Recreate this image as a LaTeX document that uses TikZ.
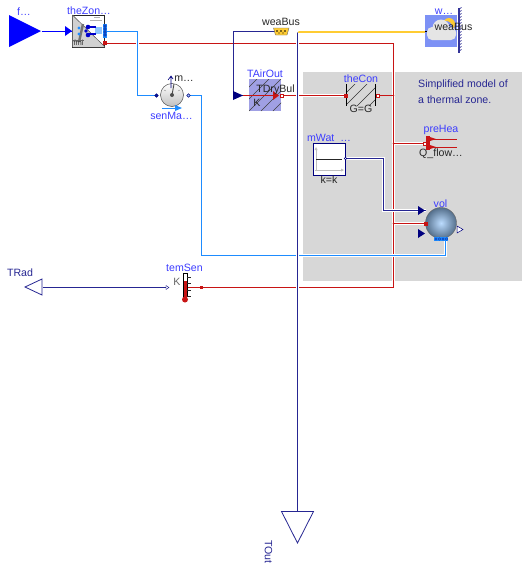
\documentclass[tikz,border=0pt]{standalone}
\usepackage{fontspec}
\setmainfont{Liberation Sans}
\definecolor{mblue}{RGB}{0,0,255}
\definecolor{lblue}{RGB}{60,60,255}
\definecolor{dblue}{RGB}{0,0,127}
\definecolor{mred}{RGB}{200,20,20}
\definecolor{sky}{RGB}{30,140,255}
\definecolor{wyellow}{RGB}{255,204,51}
\definecolor{panel}{RGB}{215,215,215}
\definecolor{hatchbg}{RGB}{160,160,228}
\definecolor{weabg}{RGB}{125,145,245}
\tikzset{
 lab/.style={inner sep=0pt,font=\fontsize{10.6}{12}\selectfont,text=lblue},
 blk/.style={inner sep=0pt,font=\fontsize{10.6}{12}\selectfont,text=black!85},
 note/.style={inner sep=0pt,font=\fontsize{10.6}{12}\selectfont,text=dblue!85,anchor=west},
 halo/.style={white,line width=2.8pt},
 redw/.style={mred,line width=0.9pt},
 bluew/.style={sky,line width=0.9pt},
 darkw/.style={dblue!85,line width=0.9pt},
 boxn/.style={inner sep=0pt,outer sep=0pt,minimum width=32pt,minimum height=32pt,anchor=north west},
 portr/.style={fill=mred,draw=none,minimum size=4pt,inner sep=0pt},
 portw/.style={fill=white,draw=mred,line width=0.5pt,minimum size=3.5pt,inner sep=0pt},
 portb/.style={circle,fill=sky,draw=dblue,line width=0.4pt,minimum size=3.5pt,inner sep=0pt},
}
\begin{document}
\begin{tikzpicture}[x=1pt,y=-1pt]
\useasboundingbox (0,0) rectangle (528,571);
% panel
\fill[panel] (303,72) rectangle (522,281);
\node[note] (note1) at (418,85) {Simplified model of};
\node[note] (note2) at (418,100) {a thermal zone.};

% anchors, set on pixel centres
\begin{scope}[shift={(0.5,0.5)}]
\coordinate (zoneB) at (105,31);
\coordinate (zoneR) at (105,43);
\coordinate (b1) at (137,31);
\coordinate (b2) at (137,95);
\coordinate (senL) at (156,95);
\coordinate (senR) at (188,95);
\coordinate (b3) at (201,95);
\coordinate (b4) at (201,255);
\coordinate (b5) at (445,255);
\coordinate (volB) at (445,240);
\coordinate (r1) at (393,43);
\coordinate (r2) at (393,287);
\coordinate (temP) at (201,287);
\coordinate (temS) at (187,287);
\coordinate (airR) at (281,95);
\coordinate (conL) at (345,95);
\coordinate (conR) at (377,95);
\coordinate (jc1) at (393,95);
\coordinate (jc2) at (393,143);
\coordinate (jc3) at (393,223);
\coordinate (heaP) at (424,143);
\coordinate (volP) at (425,223);
\coordinate (busN) at (281,31);
\coordinate (busJ) at (297,31);
\coordinate (d1) at (233,31);
\coordinate (d2) at (233,95);
\coordinate (airL) at (249,95);
\coordinate (watIn) at (425,31);
\coordinate (tOutIn) at (297,511);
\coordinate (watO) at (345,158);
\coordinate (w1) at (383,158);
\coordinate (w2) at (383,210);
\coordinate (volI) at (425,210);
\coordinate (tRadO) at (42,287);
\coordinate (temO) at (168,287);
\coordinate (fO) at (41,31);
\coordinate (zoneL) at (72,31);
\end{scope}

% wires, each laid over a white halo
\draw[halo] (zoneR) -- (r1) -- (r2) -- (temP);
\draw[redw] (zoneR) -- (r1) -- (r2) -- (temP) -- (temS);
\draw[halo] (airR) -- (conL);
\draw[redw] (airR) -- (conL);
\draw[redw] (conR) -- (jc1);
\draw[halo] (jc2) -- (heaP);
\draw[redw] (jc2) -- (heaP);
\draw[halo] (jc3) -- (volP);
\draw[redw] (jc3) -- (volP);
\draw[halo] (zoneB) -- (b1) -- (b2) -- (senL);
\draw[bluew] (zoneB) -- (b1) -- (b2) -- (senL);
\draw[halo] (senR) -- (b3) -- (b4) -- (b5) -- (volB);
\draw[bluew] (senR) -- (b3) -- (b4) -- (b5) -- (volB);
\draw[darkw] (busN) -- (d1) -- (d2) -- (airL);
\draw[halo] (busJ) -- (tOutIn);
\draw[darkw] (busJ) -- (tOutIn);
\draw[wyellow,line width=2pt] (busJ) -- (watIn);
\draw[halo] (watO) -- (w1) -- (w2) -- (volI);
\draw[darkw] (watO) -- (w1) -- (w2) -- (volI);
\draw[darkw] (tRadO) -- (temO);
\draw[mblue,line width=0.8pt] (fO) -- (zoneL);
\fill[white] (busJ) circle (1pt);
\fill[mred] (jc1) circle (0.9pt);
\fill[mred] (jc2) circle (0.9pt);
\fill[mred] (jc3) circle (0.9pt);

% f input
\node[lab] (fL) at (24,12) {f…};
\fill[mblue] (9,15) -- (41,31) -- (9,47) -- cycle;
\fill[mblue] (65,26) -- (72,31) -- (65,36) -- cycle;

% theZone FMU
\node[lab] (zoneT) at (89,11) {theZon…};
\node[boxn,draw=black!85,line width=0.7pt,fill=white] (zone) at (72.5,15) {};
\fill[black!18] (72.5,15) -- (105,47) -- (72.5,47) -- cycle;
\draw[black!70,line width=0.5pt] (72.5,15) -- (105,47);
\draw[black!55,line width=2.4pt] (83,24) -- (79,42);
\draw[black!30,line width=0.6pt] (90,20) -- (102,20) (94,17) -- (100,17);
\fill[sky!50!white] (95,26.5) rectangle (102,34);
\draw[mblue!80!black,line width=1.1pt] (87,27) -- (96,27) (87,34) -- (96,34);
\foreach \p in {27,35}{ \fill[mblue!80!black] (88,\p) circle (2.3pt); }
\foreach \p in {28,34}{ \fill[sky] (79,\p) circle (1.6pt); }
\fill[mblue!80!black] (86,31) circle (1.8pt);
\fill[sky] (103,24) rectangle (107,38);
\foreach \p in {26,29,32,35}{ \draw[dblue,line width=0.3pt] (105,\p) circle (1.3pt); }
\fill[mred] (103,41) rectangle (107,45);
\node[inner sep=0pt,font=\fontsize{7.5}{8}\selectfont,text=black!80] (fmi) at (78.5,43) {fmi};
\draw[black!60,line width=0.3pt] (73,40) -- (84,40);

% mass flow sensor
\node[circle,draw=black!70,line width=0.5pt,minimum size=23pt,inner sep=0pt,top color=white,bottom color=black!25] (sen) at (172,95) {};
\draw[black!50,line width=0.4pt] (164,90) -- (166,91) (172,85) -- (172,87) (180,90) -- (178,91);
\draw[black!70,line width=0.9pt] (172,95) -- (174,84);
\fill[black!70] (172,95) circle (2pt);
\draw[dblue,line width=0.6pt] (171,88) -- (171,77) (168,80) -- (171,76) -- (173,79);
\node[portb,fill=dblue!80!sky] (senLp) at (senL) {};
\node[portb,fill=sky!40!white] (senRp) at (senR) {};
\draw[sky,line width=0.7pt] (162,108) -- (176,108);
\fill[sky] (175,105) -- (182,108) -- (175,111) -- cycle;
\node[blk] (senM) at (184,79) {m…};
\node[lab] (senT) at (171.5,116) {senMa…};

% weather bus
\node[blk] (busT) at (281,22) {weaBus};
\draw[black!60,fill=wyellow,line width=0.4pt] (273.5,28) -- (289,28) -- (287,35) -- (275.5,35) -- cycle;
\foreach \p in {277,281,285}{ \fill[black] (\p,31) circle (0.8pt); }
\fill[black] (279,33) circle (0.7pt); \fill[black] (283,33) circle (0.7pt);

% TAirOut
\node[lab] (airT) at (265,74) {TAirOut};
\node[boxn,fill=hatchbg] (air) at (249,79) {};
\begin{scope}
\clip (249,79) rectangle (281,111);
\foreach \k in {-24,-12,...,48}{ \draw[black!75,line width=0.4pt] (249+\k,111) -- (281+\k,79); }
\end{scope}
\fill[dblue] (233,91) -- (243,95.5) -- (233,100) -- cycle;
\draw[mred,line width=0.9pt] (243,95.5) -- (275,95.5);
\fill[mred] (273,91) -- (279,95.5) -- (273,100) -- cycle;
\node[portw,minimum size=3pt] (airP) at (airR) {};
\node[blk] (airV) at (275.5,90) {TDryBul};
\node[blk] (airK) at (257,103) {K};

% theCon
\node[lab] (conT) at (361,79) {theCon};
\begin{scope}
\clip (347,84) rectangle (376,106);
\foreach \k in {-24,-12,...,40}{ \draw[black!80,line width=0.45pt] (345+\k,106) -- (377+\k,74); }
\end{scope}
\draw[black,line width=0.9pt] (346.5,84) -- (346.5,106) (375.5,84) -- (375.5,106);
\node[portr] (conLp) at (conL) {};
\node[portw] (conRp) at (conR) {};
\node[blk] (conG) at (361,109) {G=G};

% weather data
\node[boxn,fill=weabg] (wea) at (425,15) {};
\fill[wyellow] (449,24) circle (6pt);
\fill[weabg] (446,27) circle (6pt);
\fill[black!10,rounded corners=5pt] (427,27) rectangle (456,40);
\fill[black!10] (441,28) circle (8.5pt);
\draw[dblue!80,line width=1.2pt] (459,8) -- (459,53);
\foreach \p in {9,12,...,52}{ \draw[dblue!80,line width=0.7pt] (459,\p) -- (461.5,\p-1.5); }
\draw[black,line width=0.6pt] (425,31.5) -- (427,31.5);
\node[lab] (weaT) at (444,12) {w…};
\node[blk] (weaV) at (453.5,27) {weaBus};

% mWat
\node[lab] (watT) at (329,138) {mWat\ \ …};
\node[boxn,fill=white,draw=dblue,line width=0.8pt] (wat) at (313.5,143.5) {};
\draw[black!25,line width=0.6pt] (316,171) -- (316,149) (314.5,170) -- (343,170);
\fill[black!25] (314.5,150) -- (317.5,150) -- (316,147) -- cycle;
\fill[black!25] (341,168.5) -- (341,171.5) -- (344,170) -- cycle;
\draw[black!85,line width=0.8pt] (316,159) -- (342,159);
\node[circle,fill=white,draw=dblue,line width=0.5pt,minimum size=2.5pt,inner sep=0pt] (watP) at (watO) {};
\node[blk] (watK) at (329,180) {k=k};

% preHea
\node[lab] (heaT) at (441,130) {preHea};
\fill[mred] (426,136) rectangle (430,150);
\fill[mred] (430,137) -- (436,139) -- (430,141) -- cycle;
\fill[mred] (430,145) -- (436,147) -- (430,149) -- cycle;
\draw[mred,line width=0.6pt] (432,139) -- (457,139) (432,147) -- (457,147);
\node[portw] (heaPp) at (heaP) {};
\node[blk] (heaQ) at (441,154) {Q\_flow…};

% vol
\node[lab] (volT) at (440.5,204) {vol};
\node[circle,draw=black!60,line width=0.4pt,minimum size=31pt,inner sep=0pt,inner color=sky!30!white,outer color=sky!35!black!70] (vol) at (441,223) {};
\fill[dblue] (418,206) -- (425,210.5) -- (418,215) -- cycle;
\fill[dblue] (418,229) -- (425,233.5) -- (418,238) -- cycle;
\node[portr] (volPp) at (volP) {};
\draw[dblue,fill=white,line width=0.5pt] (457,226) -- (463,229.5) -- (457,233) -- cycle;
\fill[sky] (434,237) rectangle (448,241);
\foreach \p in {436,439.5,443,446.5}{ \draw[dblue,line width=0.25pt] (\p,239) circle (1.3pt); }

% temSen
\node[lab] (temT) at (184.5,268) {temSen};
\node[inner sep=0pt,font=\fontsize{10.6}{12}\selectfont,text=black!60] (temK) at (177,282) {K};
\draw[black,fill=white,line width=0.6pt] (183,273) rectangle (187,296);
\fill[mred] (183.5,281) rectangle (186.5,298);
\fill[mred] (185,299.5) circle (3pt);
\draw[black!85,line width=0.5pt] (187,283.5) -- (191,283.5) (187,290) -- (191,290) (187,277) -- (191,277) (187,296) -- (191,296);
\node[portr,minimum size=3.5pt] (temPp) at (temP) {};
\draw[dblue,fill=white,line width=0.4pt] (166,285.5) -- (169,287.5) -- (166,289.5) -- cycle;

% TRad
\node[inner sep=0pt,font=\fontsize{10.6}{12}\selectfont,text=dblue!85] (radT) at (20,273) {TRad};
\draw[dblue!85,fill=white,line width=0.8pt] (42,279) -- (42,295) -- (25,287) -- cycle;

% TOut
\draw[dblue!85,fill=white,line width=0.8pt] (281.5,511.5) -- (313.5,511.5) -- (297.5,543) -- cycle;
\node[inner sep=0pt,font=\fontsize{10.6}{12}\selectfont,text=dblue!85,rotate=-90] (outT) at (268.5,552) {TOut};
\end{tikzpicture}
\end{document}
